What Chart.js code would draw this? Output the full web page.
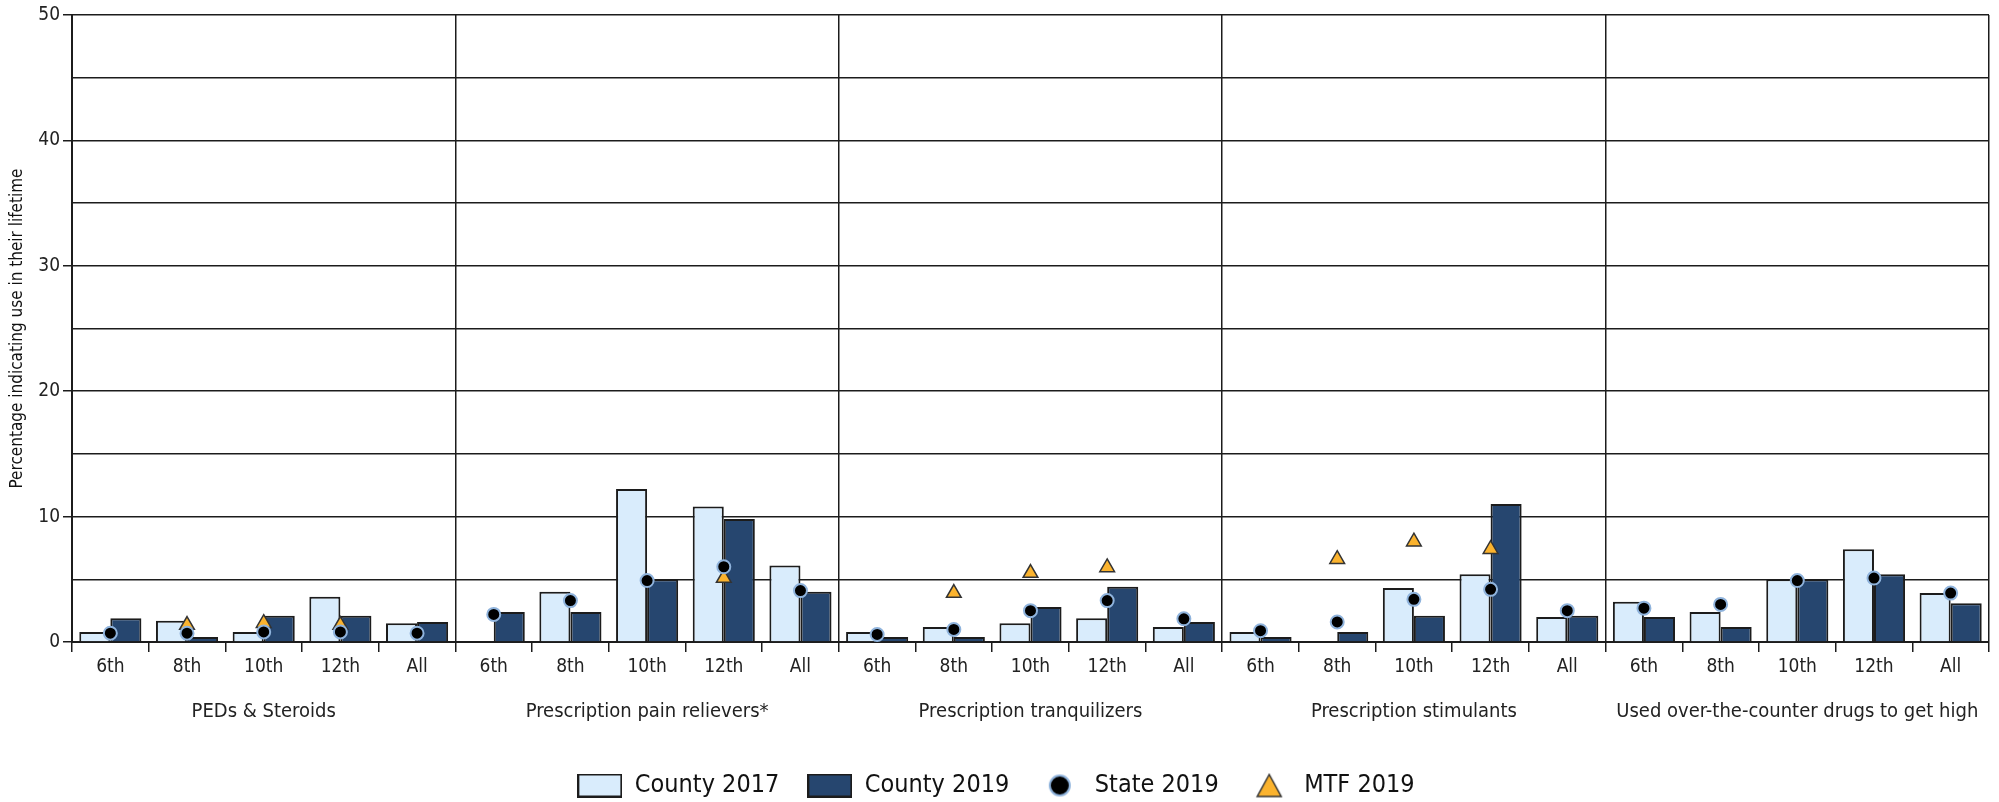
<!DOCTYPE html>
<html>
<head>
<meta charset="utf-8">
<script src="https://cdn.jsdelivr.net/npm/chart.js@4"></script>
<style>
  html, body { margin: 0; padding: 0; background: #fff; }
  #wrap { width: 1999px; height: 802px; }
</style>
</head>
<body>
<div id="wrap"><canvas id="chart"></canvas></div>
<script>
// categories
const grades = ["6th", "8th", "10th", "12th", "All"];
const groups = [
  "PEDs & Steroids",
  "Prescription pain relievers*",
  "Prescription tranquilizers",
  "Prescription stimulants",
  "Used over-the-counter drugs to get high"
];

// series, 5 grades per group, in group order
const county2017 = [0.8, 1.7, 0.8, 3.6, 1.5,   null, 4.0, 12.2, 10.8, 6.1,   0.8, 1.2, 1.5, 1.9, 1.2,   0.8, null, 4.3, 5.4, 2.0,   3.2, 2.4, 5.0, 7.4, 3.9];
const county2019 = [1.9, 0.4, 2.1, 2.1, 1.6,   2.4, 2.4, 5.0, 9.8, 4.0,      0.4, 0.4, 2.8, 4.4, 1.6,   0.4, 0.8, 2.1, 11.0, 2.1,  2.0, 1.2, 5.0, 5.4, 3.1];
const state2019  = [0.7, 0.7, 0.8, 0.8, 0.7,   2.2, 3.3, 4.9, 6.0, 4.1,      0.6, 1.0, 2.5, 3.3, 1.85,  0.9, 1.6, 3.4, 4.2, 2.5,   2.7, 3.0, 4.9, 5.1, 3.9];
const mtf2019    = [null, 1.35, 1.5, 1.35, null, null, null, null, 5.1, null, null, 3.9, 5.5, 5.95, null, null, 6.6, 8.0, 7.4, null, null, null, null, null, null];

// y ticks: grid every 5, labels every 10
const yMin = 0, yMax = 50, yStep = 5, yLabelEvery = 10;

const labels = groups.flatMap(() => grades);

const LIGHT = "#d9ecfc";
const NAVY = "#26466f";
const EDGE = "#1c1c1c";
const GOLD = "#fbb32e";
const narrow = "'Liberation Sans Narrow', 'DejaVu Sans Condensed', sans-serif";

// little canvases used as legend symbols
function marker(kind) {
  const c = document.createElement("canvas");
  const g = c.getContext("2d");
  if (kind === "box1" || kind === "box2") {
    c.width = 45; c.height = 24;
    g.fillStyle = kind === "box1" ? LIGHT : NAVY;
    g.fillRect(1, 1, 43, 22);
    g.strokeStyle = EDGE; g.lineWidth = 2;
    g.strokeRect(1, 1, 43, 22);
  } else if (kind === "circle") {
    c.width = 24; c.height = 24;
    g.beginPath(); g.arc(12, 12, 10, 0, Math.PI * 2);
    g.fillStyle = "#000"; g.fill();
    g.strokeStyle = "#8fb3dc"; g.lineWidth = 2; g.stroke();
  } else {
    c.width = 28; c.height = 26;
    g.beginPath(); g.moveTo(14, 2); g.lineTo(26, 24); g.lineTo(2, 24); g.closePath();
    g.fillStyle = GOLD; g.fill();
    g.strokeStyle = "#333"; g.lineWidth = 1.5; g.stroke();
  }
  return c;
}
const legendMarks = [marker("box1"), marker("box2"), marker("circle"), marker("tri")];

const ctx = document.getElementById("chart").getContext("2d");
new Chart(ctx, {
  type: "bar",
  data: {
    labels: labels,
    datasets: [
      { label: "County 2017", data: county2017, backgroundColor: LIGHT, borderColor: EDGE, borderWidth: 2,
        barPercentage: 1.0, categoryPercentage: 0.81, order: 2 },
      { label: "County 2019", data: county2019, backgroundColor: NAVY, borderColor: EDGE, borderWidth: 2,
        barPercentage: 1.0, categoryPercentage: 0.81, order: 3 },
      { type: "line", label: "State 2019", data: state2019, showLine: false, pointStyle: "circle",
        pointRadius: 6.5, pointBackgroundColor: "#000", pointBorderColor: "#8fb3dc", pointBorderWidth: 2, order: 0 },
      { type: "line", label: "MTF 2019", data: mtf2019, showLine: false, pointStyle: "triangle",
        pointRadius: 8.5, pointBackgroundColor: GOLD, pointBorderColor: "#333", pointBorderWidth: 1.5, order: 1 }
    ]
  },
  options: {
    responsive: true,
    maintainAspectRatio: false,
    animation: false,
    layout: { padding: { top: 15, right: 7, left: 0, bottom: 0 } },
    plugins: {
      tooltip: { enabled: false },
      legend: {
        position: "bottom",
        maxHeight: 57,
        labels: {
          usePointStyle: true,
          pointStyleWidth: 45,
          padding: 28,
          color: "#111",
          font: { family: narrow, size: 25 },
          generateLabels: (chart) => chart.data.datasets.map((ds, i) => ({
            text: ds.label,
            pointStyle: legendMarks[i],
            datasetIndex: i,
            fontColor: "#111",
            hidden: false
          }))
        }
      }
    },
    scales: {
      x: {
        offset: true,
        grid: {
          offset: true,
          color: (c) => (c.index === undefined || c.index % grades.length === 0) ? EDGE : "rgba(0,0,0,0)",
          lineWidth: 1.5,
          tickColor: EDGE,
          tickLength: 10,
          tickWidth: 1.5
        },
        border: { display: true, color: EDGE, width: 2 },
        ticks: { font: { family: narrow, size: 19 }, color: "#222", padding: 4, autoSkip: false, maxRotation: 0 },
        afterFit: (s) => { s.height = 40; }
      },
      x2: {
        type: "category",
        labels: groups,
        position: "bottom",
        offset: true,
        grid: { display: false, drawTicks: false },
        border: { display: false },
        ticks: { font: { family: narrow, size: 20 }, color: "#222", padding: 18, autoSkip: false, maxRotation: 0 },
        afterFit: (s) => { s.height = 63; }
      },
      y: {
        min: yMin,
        max: yMax,
        ticks: {
          stepSize: yStep,
          callback: (v) => (v % yLabelEvery === 0 ? v : ""),
          font: { family: narrow, size: 19 },
          color: "#222",
          padding: 3
        },
        grid: {
          color: EDGE,
          lineWidth: 1.5,
          tickLength: 9,
          tickWidth: 1.5,
          tickColor: (c) => (c.tick && c.tick.value % yLabelEvery === 0) ? EDGE : "rgba(0,0,0,0)"
        },
        border: { display: true, color: EDGE, width: 2 },
        title: {
          display: true,
          text: "Percentage indicating use in their lifetime",
          font: { family: narrow, size: 17 },
          color: "#111",
          padding: { top: 7, bottom: 0 }
        },
        afterFit: (s) => { s.width = 72; }
      }
    }
  }
});
</script>
</body>
</html>
